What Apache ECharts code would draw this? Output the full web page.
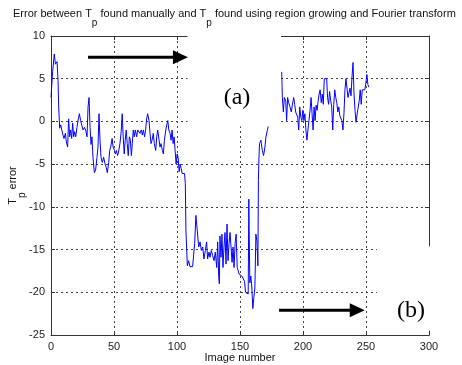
<!DOCTYPE html>
<html>
<head>
<meta charset="utf-8">
<script src="https://cdn.jsdelivr.net/npm/echarts@6/dist/echarts.min.js"></script>
<style>
  html, body { margin: 0; padding: 0; background: #fff; }
  #chart { width: 462px; height: 365px; }
</style>
</head>
<body>
<div id="chart"></div>
<script>
// error values: [image number, Tp error]
const errorBefore = [
  [0, 2.8], [1.3, 5.8], [2.6, 7.9], [3.5, 6.7], [4.8, 7.0], [5.6, 4.8], [6.1, 1.7], [6.9, -0.8],
  [7.7, -0.4], [8.5, -0.2], [9.5, -1.6], [10.3, -2.0], [11.4, -1.4], [12.2, -2.4], [13.2, -3.0],
  [14.0, 0.3], [14.8, -1.8], [15.6, -1.0], [16.4, -2.0], [17.2, -0.2], [18.0, -1.8], [18.8, -1.2],
  [19.6, -1.8], [20.6, -0.7], [21.7, 0.3], [22.5, 0.9], [23.5, 0.1], [24.6, 0.1], [25.4, -1.0],
  [26.5, -0.7], [27.5, -1.0], [28.6, -1.8], [29.4, 1.7], [30.2, 2.8], [31.0, -0.7], [31.8, -2.7],
  [32.5, -1.8], [33.3, -4.2], [34.4, -6.0], [35.4, -5.7], [36.5, -4.2], [37.3, -3.0], [38.1, 0.9],
  [38.9, -2.2], [39.7, -4.2], [40.7, -4.8], [41.8, -4.2], [42.9, -5.0], [43.9, -5.4], [44.7, -6.0],
  [45.8, -4.8], [46.6, -3.4], [47.4, -3.0], [48.5, -2.0], [49.3, -3.0], [50.4, -3.4], [51.1, -3.8],
  [52.0, -3.4], [52.8, -4.0], [53.6, -3.6], [54.7, -2.6], [55.7, -1.2], [56.5, 0.9], [57.3, -1.8],
  [58.1, -3.8], [58.9, -2.2], [59.7, -1.0], [60.5, -2.6], [61.3, -4.0], [62.2, -1.8], [63.0, -2.2],
  [63.8, -4.0], [64.5, -2.6], [65.3, -1.0], [66.1, -1.8], [66.9, -1.0], [68.0, -1.8], [68.8, -1.0],
  [69.8, -1.0], [70.6, -1.4], [71.7, -1.0], [72.5, -1.6], [73.3, -1.0], [74.3, -1.8], [75.1, -1.0],
  [75.9, 0.3], [76.7, 0.9], [77.8, 0.1], [78.6, -1.4], [79.4, -2.6], [80.2, -2.2], [81.2, -1.4],
  [82.0, -2.6], [83.1, -3.4], [83.9, -1.8], [84.7, -1.0], [85.8, -2.2], [86.5, -3.0], [87.3, -2.6],
  [88.4, -3.4], [89.2, -3.8], [90.0, -2.2], [91.1, -1.0], [91.9, -0.4], [92.7, 0.1], [93.5, -1.0],
  [94.5, -1.4], [95.3, -2.2], [96.1, -1.0], [96.9, -2.6], [97.7, -1.8], [98.5, -3.4], [99.3, -5.0],
  [100.1, -3.8], [100.9, -4.2], [101.7, -5.9], [102.5, -5.0], [103.3, -5.5], [104.1, -6.1],
  [104.9, -6.0], [106.0, -6.1], [106.6, -7.3], [107.1, -12.8], [108.2, -16.9], [109.2, -16.3],
  [110.3, -17.0], [112.4, -17.0], [114.0, -14.3], [115.0, -11.0], [116.1, -12.8], [117.2, -14.7],
  [118.3, -14.1], [119.3, -15.1], [120.4, -14.7], [121.4, -16.1], [122.5, -15.1], [123.5, -14.1],
  [124.3, -16.1], [125.4, -15.3], [126.2, -15.9], [127.2, -15.1], [128.3, -15.7], [129.4, -16.3],
  [130.4, -15.3], [131.5, -17.1], [132.3, -14.1], [133.1, -18.2], [133.6, -19.0], [134.1, -13.4],
  [134.9, -15.9], [135.7, -13.2], [136.5, -17.1], [137.3, -14.7], [138.1, -13.0], [138.9, -16.7],
  [139.7, -12.0], [140.5, -16.3], [141.3, -14.3], [142.1, -13.0], [142.9, -14.7], [143.7, -16.5],
  [144.5, -14.7], [145.3, -17.1], [146.1, -14.3], [146.9, -13.2], [147.8, -17.1], [148.6, -17.5],
  [149.4, -17.9], [150.2, -18.1], [151.5, -18.1], [152.8, -18.1], [153.6, -18.7], [154.4, -20.0],
  [155.4, -20.0], [156.5, -20.2], [157.0, -9.1], [157.8, -18.9], [158.6, -18.1], [159.4, -19.5],
  [160.2, -21.9], [161.0, -20.6], [161.8, -19.5], [162.6, -13.2], [163.4, -14.0], [164.2, -16.9],
  [164.6, -6.9], [165.0, -4.4], [165.5, -2.6], [166.6, -2.2], [167.7, -3.4], [168.7, -4.0],
  [169.8, -3.0], [170.5, -1.9], [171.6, -1.1], [172.6, -0.5]
];

const errorAfter = [
  [183.1, 5.8], [183.6, 2.8], [184.4, 1.1], [185.2, 2.8], [186.3, 2.4], [187.0, 0.1], [187.8, 2.8],
  [188.6, 2.2], [189.7, 1.7], [190.7, 1.1], [191.5, 1.9], [192.6, 2.8], [193.4, 2.0], [194.2, 1.1],
  [195.0, 0.9], [195.8, 0.5], [196.6, -1.0], [197.4, 1.7], [198.3, 0.5], [199.1, 0.1], [199.9, 1.3],
  [200.7, 0.1], [201.5, 0.9], [202.3, -1.0], [203.1, -2.2], [203.9, -2.0], [204.7, 0.1], [205.6, 1.3],
  [206.4, 2.8], [207.2, 0.9], [208.0, -1.0], [208.8, 1.7], [209.6, 0.1], [210.4, 1.9], [211.2, 1.3],
  [212.0, 2.4], [212.8, 3.2], [213.6, 3.7], [214.5, 2.2], [215.3, 3.2], [216.1, 2.0], [216.9, 5.0],
  [218.0, 5.0], [218.8, 5.0], [219.5, 2.8], [220.3, 2.0], [221.1, 3.5], [222.0, 2.4], [222.8, 1.7],
  [223.6, -1.0], [224.4, 2.0], [225.2, 3.7], [226.0, 2.8], [226.8, 2.2], [227.6, 1.1], [228.4, 1.7],
  [229.2, 0.7], [230.0, 0.5], [230.8, 0.1], [231.7, -1.0], [232.5, 0.9], [233.3, 3.7], [234.1, 5.0],
  [234.9, 3.9], [235.7, 2.8], [236.5, 3.0], [237.3, 3.9], [238.1, 3.0], [238.9, 5.2], [239.7, 6.9],
  [240.5, 3.2], [241.3, 1.3], [242.1, -0.1], [243.0, 0.9], [243.8, 1.1], [244.6, 2.4], [245.4, 3.7],
  [246.2, 2.0], [247.0, 3.7], [248.0, 3.7], [249.1, 3.7], [249.9, 4.5], [250.7, 5.5], [251.5, 4.3],
  [252.3, 4.0]
];

const xTicks = [0, 50, 100, 150, 200, 250, 300];
const yTicks = [-25, -20, -15, -10, -5, 0, 5, 10];

// annotations pasted over the plot, in data units
const maskA = { x0: 108.3, x1: 182.6, yBottom: -0.6 };
const maskB = { x0: 258.6, yTop: -14.6, yBottom: -24.5 };
const arrowA = { from: [29.4, 7.5], to: [108.7, 7.5] };
const arrowB = { from: [181.0, -22.1], to: [249.0, -22.1] };
const labelA = { text: '(a)', at: [147.6, 2.8] };
const labelB = { text: '(b)', at: [285.7, -22.1] };

const AXIS = '#333';
const GRID_LINE = { color: '#444', type: [2, 3], width: 1 };
const sub = {
  n: { fontSize: 11, lineHeight: 12, verticalAlign: 'top', color: '#111' },
  s: { fontSize: 10, lineHeight: 20, verticalAlign: 'bottom', color: '#111' },
};

const chart = echarts.init(document.getElementById('chart'), null, { renderer: 'canvas' });

const baseX = {
  type: 'value',
  min: xTicks[0],
  max: xTicks[xTicks.length - 1],
  interval: 50,
  axisLine: { show: true, onZero: false, lineStyle: { color: AXIS } },
  axisTick: { show: true, inside: true, length: 4, lineStyle: { color: AXIS } },
};
const baseY = {
  type: 'value',
  min: yTicks[0],
  max: yTicks[yTicks.length - 1],
  interval: 5,
  axisLine: { show: true, onZero: false, lineStyle: { color: AXIS } },
  axisTick: { show: true, inside: true, length: 4, lineStyle: { color: AXIS } },
};

chart.setOption({
  animation: false,
  textStyle: { fontFamily: 'Liberation Sans, Arial, sans-serif' },
  title: {
    left: 13,
    top: 8,
    padding: 0,
    text: '{n|Error between T}{s|p}{n| found manually and T}{s|p}{n| found using region growing and Fourier transform}',
    textStyle: { rich: sub, fontWeight: 'normal' },
  },
  grid: { left: 51, right: 33, top: 36, bottom: 30, outerBoundsMode: 'none' },
  xAxis: [
    {
      ...baseX,
      position: 'bottom',
      name: 'Image number',
      nameLocation: 'middle',
      nameGap: 17,
      nameMoveOverlap: false,
      nameTextStyle: { fontSize: 11, color: '#111' },
      axisLabel: { fontSize: 11, color: '#222', margin: 6 },
      splitLine: { show: true, lineStyle: GRID_LINE },
    },
    {
      ...baseX,
      position: 'top',
      axisLabel: { show: false },
      splitLine: { show: false },
    },
  ],
  yAxis: [
    {
      ...baseY,
      position: 'left',
      name: '{n|T}{s|p}{n| error}',
      nameLocation: 'middle',
      nameRotate: 90,
      nameGap: 24,
      nameMoveOverlap: false,
      nameTextStyle: { rich: sub },
      axisLabel: { fontSize: 11, color: '#222', margin: 6 },
      splitLine: { show: true, lineStyle: GRID_LINE },
    },
    {
      ...baseY,
      position: 'right',
      axisLabel: { show: false },
      splitLine: { show: false },
    },
  ],
  series: [errorBefore, errorAfter].map((data) => ({
    type: 'line',
    data,
    showSymbol: false,
    lineStyle: { width: 1, color: '#0000ff' },
    itemStyle: { color: '#0000ff' },
    z: 3,
  })),
});

function px(point) {
  return chart.convertToPixel({ gridIndex: 0 }, point);
}

function arrow({ from, to }) {
  const [x0, y] = px(from);
  const [x1] = px(to);
  const head = 15;
  return [
    {
      type: 'line',
      z: 20,
      shape: { x1: x0, y1: y, x2: x1 - head + 2, y2: y },
      style: { stroke: '#000', lineWidth: 3 },
    },
    {
      type: 'polygon',
      z: 20,
      shape: { points: [[x1, y], [x1 - head, y - 7], [x1 - head, y + 7]] },
      style: { fill: '#000' },
    },
  ];
}

function label({ text, at }) {
  const [x, y] = px(at);
  return {
    type: 'text',
    z: 20,
    x,
    y,
    style: {
      text,
      font: '24px "Liberation Serif", "Times New Roman", serif',
      fill: '#000',
      align: 'center',
      verticalAlign: 'middle',
    },
  };
}

const [ax0, ayB] = px([maskA.x0, maskA.yBottom]);
const [ax1] = px([maskA.x1, 0]);
const [bx0, byT] = px([maskB.x0, maskB.yTop]);
const [, byB] = px([0, maskB.yBottom]);

chart.setOption({
  graphic: [
    {
      type: 'rect',
      z: 10,
      shape: { x: ax0, y: 28, width: ax1 - ax0, height: ayB - 28 },
      style: { fill: '#fff' },
    },
    {
      type: 'rect',
      z: 10,
      shape: { x: bx0, y: byT, width: 462 - bx0 - 28, height: byB - byT },
      style: { fill: '#fff' },
    },
    ...arrow(arrowA),
    ...arrow(arrowB),
    label(labelA),
    label(labelB),
  ],
});
</script>
</body>
</html>
